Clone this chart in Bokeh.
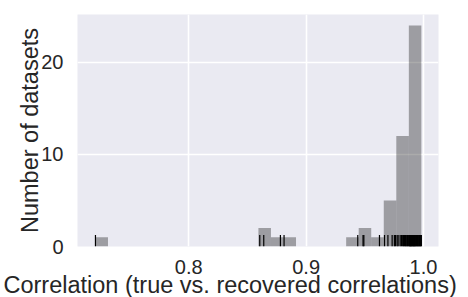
import numpy as np
from bokeh.plotting import figure
from bokeh.models import FixedTicker, PrintfTickFormatter, Title
from bokeh.embed import file_html
from bokeh.resources import INLINE

# Correlation between true and recovered correlations, one value per dataset (50 datasets)
correlations = [
    0.7205,
    0.8605, 0.8639, 0.8781, 0.8812,
    0.9440, 0.9485, 0.9492, 0.9625,
    0.9668, 0.9697, 0.9733, 0.9752, 0.9761,
    0.9775, 0.9784, 0.9801, 0.9812, 0.9823, 0.9830, 0.9838, 0.9846, 0.9851, 0.9858, 0.9864, 0.9871,
    0.9878, 0.9882, 0.9886, 0.9889, 0.9893, 0.9897, 0.9901, 0.9905, 0.9910, 0.9914, 0.9918, 0.9921,
    0.9925, 0.9930, 0.9934, 0.9940, 0.9945, 0.9950, 0.9955, 0.9960, 0.9966, 0.9971, 0.9976, 0.9982,
]
n_bins = 26
x_ticks = [0.8, 0.9, 1.0]
y_ticks = [0, 10, 20]
x_label = "Correlation (true vs. recovered correlations)"
y_label = "Number of datasets"

counts, edges = np.histogram(correlations, bins=n_bins)

FONT = "Liberation Sans"
TXT = "#262626"
W, H = 468, 297

p = figure(width=W, height=H, output_backend="svg", toolbar_location=None,
           x_range=(0.7052, 1.0128), y_range=(0, counts.max() * 1.05),
           min_border_left=77, min_border_right=30, min_border_top=14, min_border_bottom=50)
p.background_fill_color = "#EAEAF2"
p.border_fill_color = "white"
p.outline_line_color = None

p.quad(left=edges[:-1], right=edges[1:], bottom=0, top=counts,
       fill_color="black", fill_alpha=0.33, line_color=None)

rug_top = counts.max() * 1.05 * 0.05
p.segment(x0=correlations, y0=0, x1=correlations, y1=rug_top, line_color="black", line_width=1.2)

p.xaxis.ticker = FixedTicker(ticks=x_ticks)
p.yaxis.ticker = FixedTicker(ticks=y_ticks)
p.xaxis.formatter = PrintfTickFormatter(format="%.1f")
p.xgrid.ticker = FixedTicker(ticks=x_ticks)
p.ygrid.ticker = FixedTicker(ticks=y_ticks)
for g in (p.xgrid, p.ygrid):
    g.grid_line_color = "white"
    g.grid_line_width = 1.6

for ax in (p.xaxis, p.yaxis):
    ax.axis_line_color = None
    ax.major_tick_line_color = None
    ax.minor_tick_line_color = None
    ax.major_label_text_font = FONT
    ax.major_label_text_font_size = "20px"
    ax.major_label_text_color = TXT
p.xaxis.major_label_standoff = 7
p.yaxis.major_label_standoff = 8

p.yaxis.axis_label = y_label
p.yaxis.axis_label_text_font = FONT
p.yaxis.axis_label_text_font_size = "23.5px"
p.yaxis.axis_label_text_font_style = "normal"
p.yaxis.axis_label_text_color = TXT
p.yaxis.axis_label_standoff = -5

p.add_layout(Title(text=x_label, align="left", offset=-74, standoff=-13,
                   text_font=FONT, text_font_size="23.5px", text_font_style="normal",
                   text_color=TXT), "below")
# small empty spacer panel so the x label does not touch the bottom edge
p.add_layout(Title(text=" ", text_font_size="1px", standoff=3), "below")

open("out.html", "w").write(file_html(p, INLINE))
